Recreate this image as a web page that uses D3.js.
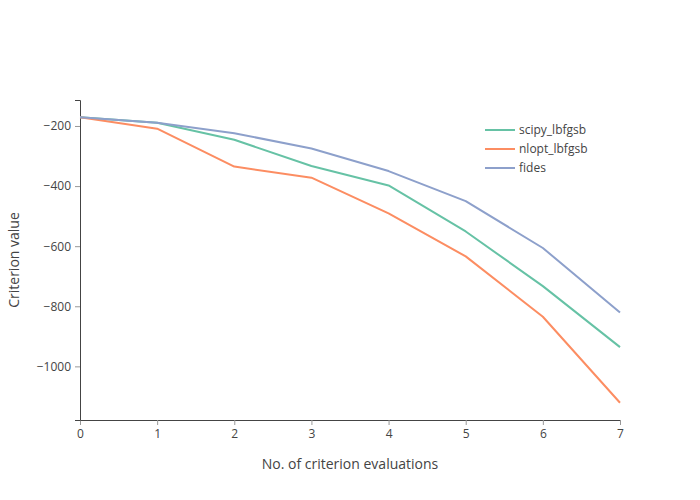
<!DOCTYPE html>
<html>
<head>
<meta charset="utf-8">
<script src="https://cdn.jsdelivr.net/npm/d3@7"></script>
<style>
  body { margin: 0; background: #fff; }
  text { font-family: "Open Sans", sans-serif; }
</style>
</head>
<body>
<div id="chart-area"></div>
<script>
const evaluations = [0, 1, 2, 3, 4, 5, 6, 7]
const seriesNames = ['scipy_lbfgsb', 'nlopt_lbfgsb', 'fides']
const scipyValues = [-171, -189, -246, -333, -398, -551, -733, -936]
const nloptValues = [-171, -209, -335, -372, -491, -634, -835, -1121]
const fidesValues = [-171, -189, -224, -275, -350, -450, -606, -821]
const yTicks = [-200, -400, -600, -800, -1000]
const colors = ['#66c2a5', '#fc8d62', '#8da0cb']

const margin = {top: 100, right: 80, bottom: 80, left: 80}
const width = 700 - margin.left - margin.right
const height = 500 - margin.top - margin.bottom

const series = [scipyValues, nloptValues, fidesValues].map((vals, i) => ({
  name: seriesNames[i],
  color: colors[i],
  points: vals.map((v, j) => ({x: evaluations[j], y: v}))
}))

const svg = d3.select('#chart-area')
  .append('svg')
    .attr('width', 700)
    .attr('height', 500)

const g = svg.append('g')
  .attr('transform', `translate(${margin.left},${margin.top})`)

const x = d3.scaleLinear()
  .domain(d3.extent(evaluations))
  .range([0, width])

const allVals = scipyValues.concat(nloptValues, fidesValues)
const [lo, hi] = d3.extent(allVals)
const pad = (hi - lo) * 0.0605
const y = d3.scaleLinear()
  .domain([lo - pad, hi + pad])
  .range([height, 0])

const xAxis = g.append('g')
  .attr('transform', `translate(0,${height})`)
  .call(d3.axisBottom(x).tickValues(evaluations).tickSize(5).tickPadding(4)
    .tickFormat(d3.format('d')))

const yAxis = g.append('g')
  .call(d3.axisLeft(y).tickValues(yTicks).tickSize(5).tickPadding(4)
    .tickFormat(d => String(d).replace('-', '\u2212')))

;[xAxis, yAxis].forEach(a => {
  a.select('.domain').attr('stroke', '#444').attr('stroke-width', 1)
  a.selectAll('.tick line').attr('stroke', '#999')
  a.selectAll('.tick text')
    .attr('fill', '#444')
    .attr('font-size', '12px')
    .attr('font-family', '"Open Sans", sans-serif')
})

const line = d3.line()
  .x(d => x(d.x))
  .y(d => y(d.y))

g.selectAll('.series')
  .data(series)
  .enter()
  .append('path')
    .attr('class', 'series')
    .attr('fill', 'none')
    .attr('stroke', d => d.color)
    .attr('stroke-width', 2)
    .attr('stroke-linejoin', 'round')
    .attr('d', d => line(d.points))

// legend
const legend = svg.append('g')
  .attr('transform', 'translate(485,130)')

const items = legend.selectAll('g')
  .data(series)
  .enter()
  .append('g')
    .attr('transform', (d, i) => `translate(0,${i * 19})`)

items.append('line')
  .attr('x1', 0)
  .attr('x2', 30)
  .attr('stroke', d => d.color)
  .attr('stroke-width', 2)

items.append('text')
  .attr('x', 34)
  .attr('dy', '0.35em')
  .attr('font-size', '12px')
  .attr('fill', '#444')
  .text(d => d.name)

svg.append('text')
  .attr('x', margin.left + width / 2)
  .attr('y', 469)
  .attr('text-anchor', 'middle')
  .attr('font-size', '14px')
  .attr('fill', '#444')
  .text('No. of criterion evaluations')

svg.append('text')
  .attr('transform', `translate(19,${margin.top + height / 2}) rotate(-90)`)
  .attr('text-anchor', 'middle')
  .attr('font-size', '14px')
  .attr('fill', '#444')
  .text('Criterion value')
</script>
</body>
</html>
